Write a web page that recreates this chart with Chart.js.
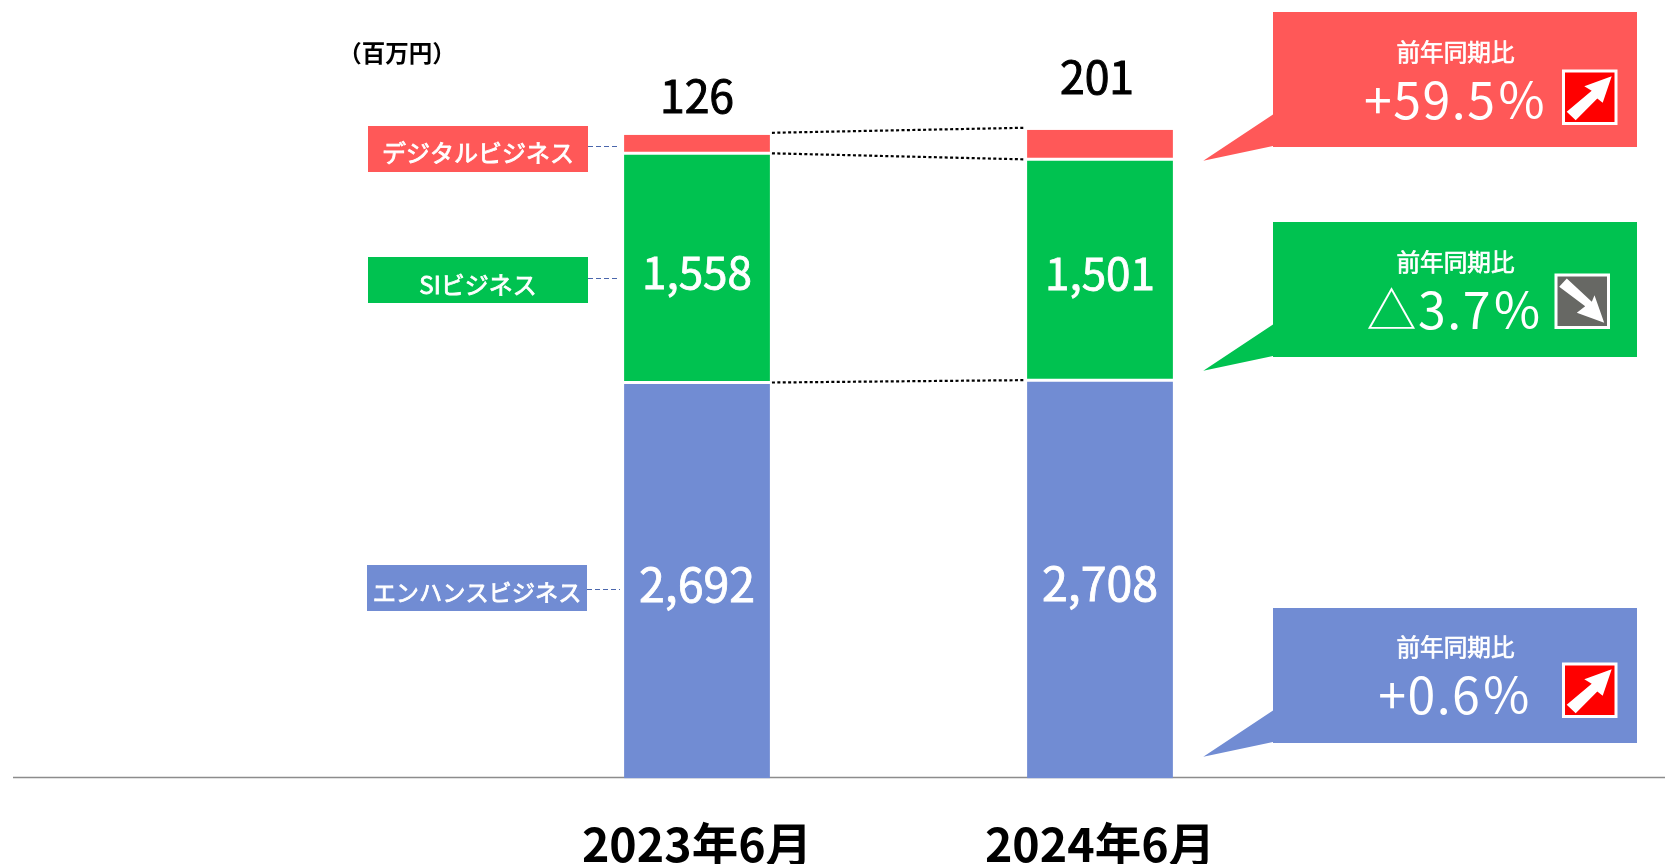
<!DOCTYPE html>
<html lang="ja">
<head>
<meta charset="utf-8">
<title>ビジネス別売上</title>
<style>
	html, body { margin: 0; padding: 0; background: #ffffff; }
	canvas { display: block; }
</style>
<script src="https://cdn.jsdelivr.net/npm/chart.js@4"></script>
</head>
<body>
<canvas id="stacked-chart" width="1665" height="864"></canvas>
<script>
const categories = ["2023年6月", "2024年6月"];
const enhanceValues = [2692, 2708];
const siValues = [1558, 1501];
const digitalValues = [126, 201];
const seriesNames = ["エンハンスビジネス", "SIビジネス", "デジタルビジネス"];
const changeLabel = "前年同期比";
const changeTexts = ["+0.6％", "△3.7％", "+59.5％"];
const unitText = "（百万円）";

const RED = "#ff5858";
const GREEN = "#00c250";
const BLUE = "#718cd3";
const GRAY = "#676864";
const FONT = '"Noto Sans CJK JP", "Noto Sans", sans-serif';

// label boxes left of the first bar
const nameBoxes = [
	{ x: 367, y: 565, w: 220, h: 46, color: BLUE, size: 23.2, textY: 592, lineY: 589.5 },
	{ x: 368, y: 257, w: 220, h: 46, color: GREEN, size: 24, textY: 285, lineY: 278.5 },
	{ x: 368, y: 126, w: 220, h: 46, color: RED, size: 24, textY: 153, lineY: 146.5 },
];

// callouts on the right
const callouts = [
	{ top: 608, color: BLUE, labelY: 647, textX: 1455.5, textY: 695, iconX: 1562, iconY: 662.5, up: true },
	{ top: 222, color: GREEN, labelY: 262, textX: 1455, textY: 310, iconX: 1554.5, iconY: 273.5, up: false },
	{ top: 12, color: RED, labelY: 52, textX: 1456, textY: 100, iconX: 1562, iconY: 69.5, up: true },
];

const arrowUp = [[49.7, 6.7], [22.3, 16.7], [29.7, 21.3], [4.7, 42.3], [13.7, 50.7], [35.3, 29], [40.7, 33.3]];
const arrowDown = [[49.7, 49.3], [22.3, 39.3], [30.7, 32.7], [4.7, 13.3], [12.3, 5], [37.3, 28.3], [40, 21.7]];

// the blue values are set a little larger than the green ones
const insideSizes = [46.5, 44];

// the two totals above the stacks do not sit at the same gap
const topLabelGap = [39, 53];
const topLabelShift = [0, -3];

function text(ctx, str, x, y, font, color, thicken) {
	ctx.font = font;
	ctx.fillStyle = color;
	ctx.textAlign = "center";
	ctx.textBaseline = "middle";
	ctx.fillText(str, x, y);
	if (thicken) {
		ctx.strokeStyle = color;
		ctx.lineWidth = thicken;
		ctx.setLineDash([]);
		ctx.strokeText(str, x, y);
	}
}

function polygon(ctx, x, y, points, color) {
	ctx.fillStyle = color;
	ctx.beginPath();
	points.forEach((p, i) => {
		if (i === 0) ctx.moveTo(x + p[0], y + p[1]);
		else ctx.lineTo(x + p[0], y + p[1]);
	});
	ctx.closePath();
	ctx.fill();
}

const baselinePlugin = {
	id: "baseline",
	beforeDatasetsDraw(chart) {
		const ctx = chart.ctx;
		const y = chart.scales.y.getPixelForValue(0) - 1;
		ctx.save();
		ctx.strokeStyle = "#8c8c8c";
		ctx.lineWidth = 1.5;
		ctx.beginPath();
		ctx.moveTo(13, y);
		ctx.lineTo(1665, y);
		ctx.stroke();
		ctx.restore();
	},
};

const overlayPlugin = {
	id: "overlay",
	afterDatasetsDraw(chart) {
		const ctx = chart.ctx;
		const y = chart.scales.y;
		ctx.save();

		// values inside the bars
		[enhanceValues, siValues].forEach((values, d) => {
			const bars = chart.getDatasetMeta(d).data;
			values.forEach((v, i) => {
				const label = v.toLocaleString("en-US");
				text(ctx, label, bars[i].x, (bars[i].y + bars[i].base) / 2 + 4, "400 " + insideSizes[d] + "px " + FONT, "#ffffff", 0.8);
			});
		});

		// digital value above each stack
		const topBars = chart.getDatasetMeta(2).data;
		digitalValues.forEach((v, i) => {
			text(ctx, String(v), topBars[i].x + topLabelShift[i], topBars[i].y - topLabelGap[i], "400 44.5px " + FONT, "#000000", 1);
		});

		// dotted connectors between the stacks
		const levels = [
			[enhanceValues[0], enhanceValues[1], 0],
			[enhanceValues[0] + siValues[0], enhanceValues[1] + siValues[1], 0],
			[enhanceValues[0] + siValues[0] + digitalValues[0], enhanceValues[1] + siValues[1] + digitalValues[1], -2],
		];
		const x0 = topBars[0].x + topBars[0].width / 2 + 2;
		const x1 = topBars[1].x - topBars[1].width / 2 - 3;
		ctx.strokeStyle = "#000000";
		ctx.lineWidth = 2.2;
		ctx.setLineDash([3, 2.4]);
		levels.forEach((l) => {
			ctx.beginPath();
			ctx.moveTo(x0, y.getPixelForValue(l[0]) + l[2]);
			ctx.lineTo(x1, y.getPixelForValue(l[1]) + l[2]);
			ctx.stroke();
		});

		// name boxes and their dashed leaders
		nameBoxes.forEach((b, i) => {
			ctx.lineWidth = 1;
			ctx.strokeStyle = "#4a66ac";
			ctx.setLineDash([5, 3]);
			ctx.beginPath();
			ctx.moveTo(b.x + b.w, b.lineY);
			ctx.lineTo(620, b.lineY);
			ctx.stroke();
			ctx.fillStyle = b.color;
			ctx.fillRect(b.x, b.y, b.w, b.h);
			text(ctx, seriesNames[i], b.x + b.w / 2, b.textY, "400 " + b.size + "px " + FONT, "#ffffff", 0.8);
		});
		ctx.setLineDash([]);

		// callouts
		callouts.forEach((c, i) => {
			polygon(ctx, 1273, c.top, [[0, 0], [364, 0], [364, 135], [0, 135], [0, 134], [-69.7, 148.8], [0, 102.4]], c.color);
			text(ctx, changeLabel, 1455.5, c.labelY, "400 23.6px " + FONT, "#ffffff", 0.7);
			ctx.letterSpacing = "1.5px";
			text(ctx, changeTexts[i], c.textX, c.textY, "400 50px " + FONT, "#ffffff");
			ctx.letterSpacing = "0px";
			ctx.fillStyle = c.up ? "#ff0000" : GRAY;
			ctx.fillRect(c.iconX + 1.5, c.iconY + 1.5, 52.5, 52.5);
			ctx.strokeStyle = "#ffffff";
			ctx.lineWidth = 3;
			ctx.strokeRect(c.iconX + 1.5, c.iconY + 1.5, 52.5, 52.5);
			polygon(ctx, c.iconX, c.iconY, c.up ? arrowUp : arrowDown, "#ffffff");
		});

		text(ctx, unitText, 397, 53, "700 23.5px " + FONT, "#000000");
		ctx.restore();
	},
};

new Chart(document.getElementById("stacked-chart"), {
	type: "bar",
	data: {
		labels: categories,
		datasets: [
			{
				label: seriesNames[0],
				data: enhanceValues,
				backgroundColor: BLUE,
				borderColor: "#ffffff",
				borderWidth: { top: 1.5, bottom: 0, left: 0, right: 0 },
				borderSkipped: false,
			},
			{
				label: seriesNames[1],
				data: siValues,
				backgroundColor: GREEN,
				borderColor: "#ffffff",
				borderWidth: { top: 1.5, bottom: 1.5, left: 0, right: 0 },
				borderSkipped: false,
			},
			{
				label: seriesNames[2],
				data: digitalValues,
				backgroundColor: RED,
				borderColor: "#ffffff",
				borderWidth: { top: 0, bottom: 1.5, left: 0, right: 0 },
				borderSkipped: false,
			},
		],
	},
	options: {
		responsive: false,
		animation: false,
		layout: {
			padding: { top: 43, left: 495.5, right: 363.5, bottom: 0 },
		},
		plugins: {
			legend: { display: false },
			title: { display: false },
			tooltip: { enabled: false },
		},
		datasets: {
			bar: { barPercentage: 1, categoryPercentage: 0.362 },
		},
		scales: {
			x: {
				stacked: true,
				grid: { display: false },
				border: { display: false },
				ticks: {
					color: "#000000",
					padding: 30,
					font: { family: FONT, size: 46.5, weight: "700" },
					maxRotation: 0,
				},
				afterFit(scale) {
					scale.height = 85.5;
				},
			},
			y: {
				display: false,
				stacked: true,
				min: 0,
				max: 5000,
			},
		},
	},
	plugins: [baselinePlugin, overlayPlugin],
});
</script>
</body>
</html>
